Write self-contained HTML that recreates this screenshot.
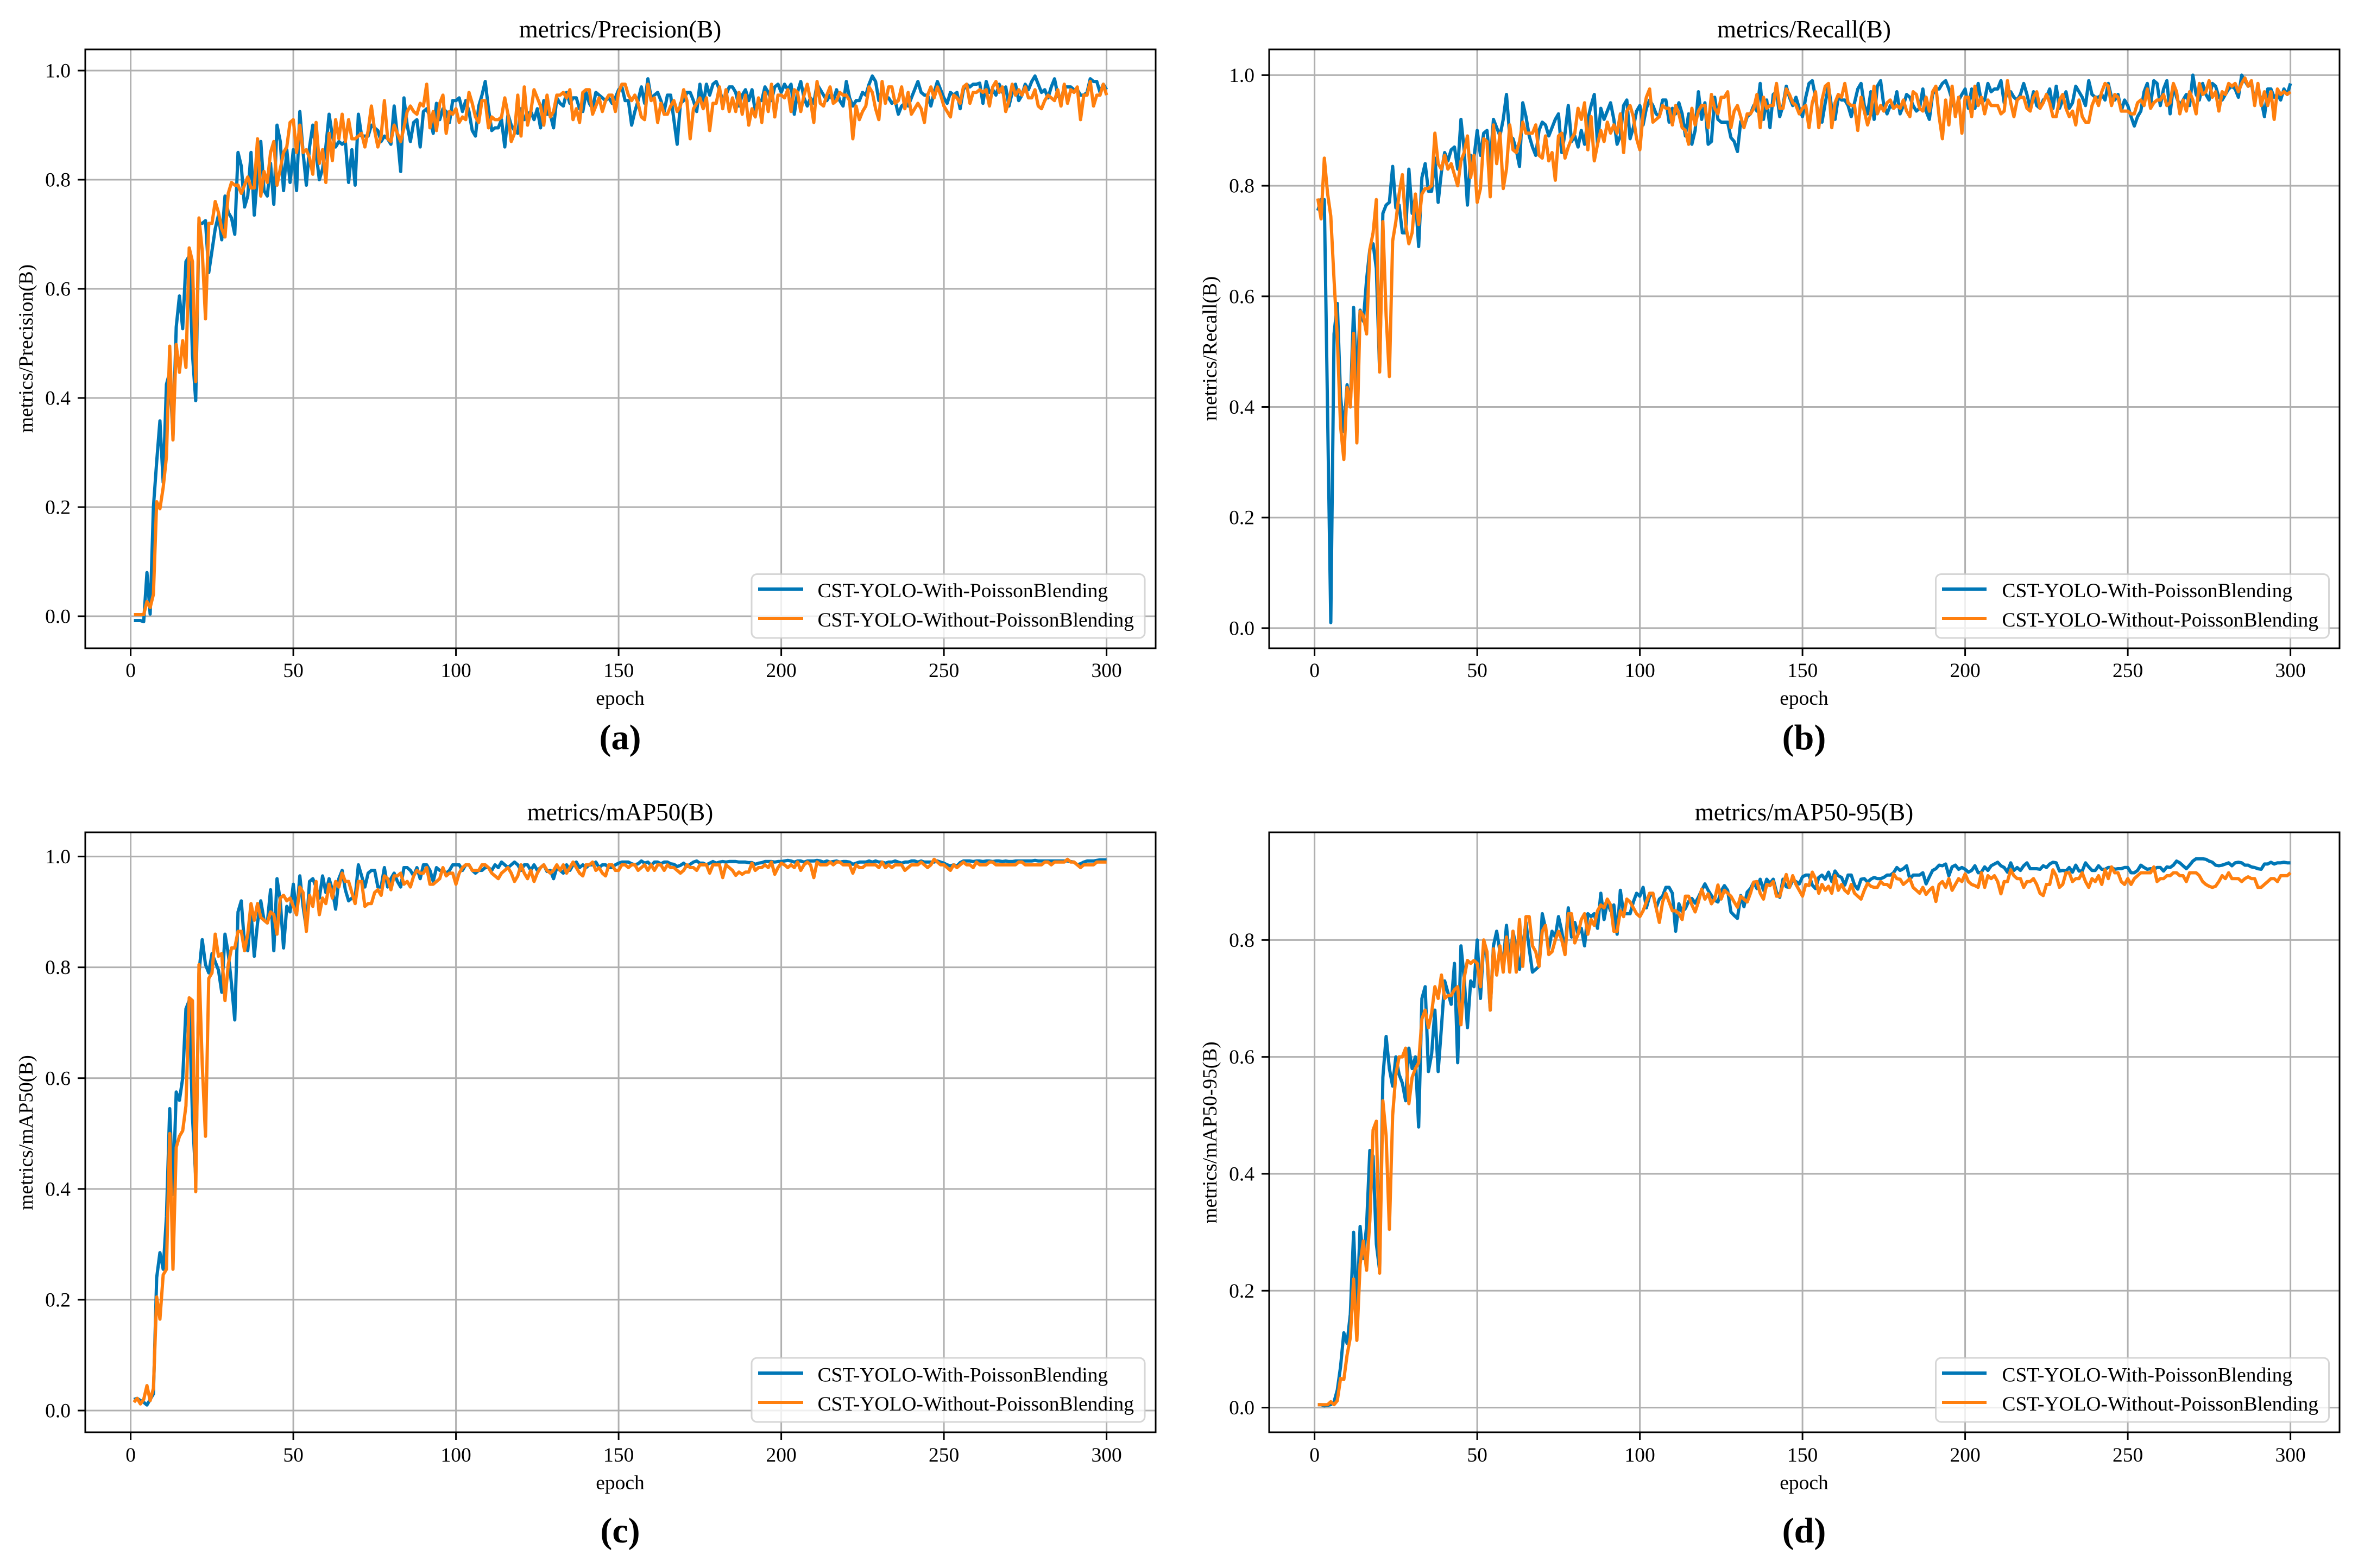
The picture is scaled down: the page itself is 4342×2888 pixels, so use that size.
<!DOCTYPE html>
<html lang="en">
<head>
<meta charset="utf-8">
<title>CST-YOLO training metrics</title>
<style>
html,body{margin:0;padding:0;background:#fff;}
svg{display:block;}
text{font-family:"Liberation Serif","Times New Roman",serif;fill:#000;}
.tick{font-size:37.5px;}
.axis{font-size:37.5px;}
.title{font-size:45px;text-anchor:middle;}
.leg{font-size:37.5px;}
.cap{font-size:66px;font-weight:bold;text-anchor:middle;}
</style>
</head>
<body>
<svg id="figure" xmlns="http://www.w3.org/2000/svg" width="4342" height="2888" viewBox="0 0 4342 2888">
<rect x="0" y="0" width="4342" height="2888" fill="#fff"/>

<g id="panel-a">
 <g class="grid"></g>
 <g class="series"></g>
 <rect x="157" y="91" width="1971" height="1103" fill="none" stroke="#000" stroke-width="3"/>
 <g class="ticks"></g>
 <text class="title" x="1142" y="69">metrics/Precision(B)</text>
 <text class="axis" x="1142" y="1298" text-anchor="middle">epoch</text>
 <text class="axis" transform="translate(60,642) rotate(-90)" text-anchor="middle">metrics/Precision(B)</text>
 <g>
  <rect x="1384" y="1057.5" width="724" height="117.5" rx="10" fill="#fff" fill-opacity=".8" stroke="#ccc" stroke-opacity=".8" stroke-width="3"/>
  <line x1="1396" x2="1479" y1="1085" y2="1085" stroke="#0077b6" stroke-width="6"/>
  <text class="leg" x="1505.5" y="1100">CST-YOLO-With-PoissonBlending</text>
  <line x1="1396" x2="1479" y1="1139" y2="1139" stroke="#ff7f0e" stroke-width="6"/>
  <text class="leg" x="1505.5" y="1154">CST-YOLO-Without-PoissonBlending</text>
 </g>
 <text class="cap" x="1142" y="1380">(a)</text>
</g>

<g id="panel-b">
 <g class="grid"></g>
 <g class="series"></g>
 <rect x="2337" y="91" width="1971" height="1103" fill="none" stroke="#000" stroke-width="3"/>
 <g class="ticks"></g>
 <text class="title" x="3322" y="69">metrics/Recall(B)</text>
 <text class="axis" x="3322" y="1298" text-anchor="middle">epoch</text>
 <text class="axis" transform="translate(2240,642) rotate(-90)" text-anchor="middle">metrics/Recall(B)</text>
 <g>
  <rect x="3564.5" y="1057.5" width="724" height="117.5" rx="10" fill="#fff" fill-opacity=".8" stroke="#ccc" stroke-opacity=".8" stroke-width="3"/>
  <line x1="3576" x2="3658" y1="1085" y2="1085" stroke="#0077b6" stroke-width="6"/>
  <text class="leg" x="3686.5" y="1100">CST-YOLO-With-PoissonBlending</text>
  <line x1="3576" x2="3658" y1="1139" y2="1139" stroke="#ff7f0e" stroke-width="6"/>
  <text class="leg" x="3686.5" y="1154">CST-YOLO-Without-PoissonBlending</text>
 </g>
 <text class="cap" x="3322" y="1380">(b)</text>
</g>

<g id="panel-c">
 <g class="grid"></g>
 <g class="series"></g>
 <rect x="157" y="1533" width="1971" height="1105" fill="none" stroke="#000" stroke-width="3"/>
 <g class="ticks"></g>
 <text class="title" x="1142" y="1511">metrics/mAP50(B)</text>
 <text class="axis" x="1142" y="2743" text-anchor="middle">epoch</text>
 <text class="axis" transform="translate(60,2086) rotate(-90)" text-anchor="middle">metrics/mAP50(B)</text>
 <g>
  <rect x="1384" y="2501" width="724" height="118" rx="10" fill="#fff" fill-opacity=".8" stroke="#ccc" stroke-opacity=".8" stroke-width="3"/>
  <line x1="1396" x2="1479" y1="2529" y2="2529" stroke="#0077b6" stroke-width="6"/>
  <text class="leg" x="1505.5" y="2544.5">CST-YOLO-With-PoissonBlending</text>
  <line x1="1396" x2="1479" y1="2583" y2="2583" stroke="#ff7f0e" stroke-width="6"/>
  <text class="leg" x="1505.5" y="2598">CST-YOLO-Without-PoissonBlending</text>
 </g>
 <text class="cap" x="1142" y="2841">(c)</text>
</g>

<g id="panel-d">
 <g class="grid"></g>
 <g class="series"></g>
 <rect x="2337" y="1533" width="1971" height="1105" fill="none" stroke="#000" stroke-width="3"/>
 <g class="ticks"></g>
 <text class="title" x="3322" y="1511">metrics/mAP50-95(B)</text>
 <text class="axis" x="3322" y="2743" text-anchor="middle">epoch</text>
 <text class="axis" transform="translate(2240,2086) rotate(-90)" text-anchor="middle">metrics/mAP50-95(B)</text>
 <g>
  <rect x="3564.5" y="2501" width="724" height="118" rx="10" fill="#fff" fill-opacity=".8" stroke="#ccc" stroke-opacity=".8" stroke-width="3"/>
  <line x1="3576" x2="3658" y1="2529" y2="2529" stroke="#0077b6" stroke-width="6"/>
  <text class="leg" x="3686.5" y="2544.5">CST-YOLO-With-PoissonBlending</text>
  <line x1="3576" x2="3658" y1="2583" y2="2583" stroke="#ff7f0e" stroke-width="6"/>
  <text class="leg" x="3686.5" y="2598">CST-YOLO-Without-PoissonBlending</text>
 </g>
 <text class="cap" x="3322" y="2841">(d)</text>
</g>
</svg>

<script>
const xTickLabels = ["0","50","100","150","200","250","300"];
const yTickLabelsFull = ["0.0","0.2","0.4","0.6","0.8","1.0"];
const yTickLabelsShort = ["0.0","0.2","0.4","0.6","0.8"];

const precisionWith = [
-.008,-.008,-.008,-.01,.08,.004,.2,.283,.358,.245,
.425,.447,.33,.53,.587,.527,.65,.66,.48,.395,
.72,.72,.725,.63,.67,.71,.735,.69,.77,.74,
.73,.70,.85,.825,.75,.77,.85,.735,.81,.87,
.78,.77,.83,.755,.9,.87,.78,.855,.795,.855,
.78,.925,.85,.79,.86,.9,.85,.8,.82,.86,
.92,.88,.86,.87,.865,.87,.795,.855,.79,.92,
.88,.88,.88,.9,.895,.89,.87,.88,.875,.865,
.935,.88,.815,.95,.9,.87,.905,.91,.86,.925,
.93,.915,.885,.94,.91,.93,.925,.905,.945,.945,
.95,.925,.945,.925,.89,.88,.935,.955,.98,.93,
.89,.895,.895,.91,.86,.92,.9,.89,.885,.93,
.91,.92,.925,.91,.93,.895,.945,.92,.92,.895,
.95,.94,.935,.96,.94,.95,.95,.93,.925,.96,
.94,.93,.96,.955,.95,.945,.95,.94,.95,.965,
.97,.945,.945,.90,.925,.945,.97,.94,.985,.95,
.955,.96,.945,.925,.955,.955,.91,.865,.94,.945,
.96,.96,.945,.925,.975,.935,.975,.955,.975,.98,
.965,.945,.955,.97,.97,.96,.935,.955,.965,.945,
.965,.925,.945,.945,.97,.96,.945,.97,.975,.96,
.975,.965,.975,.92,.96,.98,.95,.935,.95,.94,
.975,.965,.955,.945,.955,.945,.965,.945,.935,.98,
.95,.935,.945,.945,.96,.955,.975,.99,.98,.945,
.965,.95,.95,.94,.945,.92,.935,.94,.935,.95,
.965,.98,.96,.955,.955,.935,.96,.98,.965,.95,
.94,.96,.955,.96,.93,.965,.975,.97,.975,.975,
.977,.94,.98,.96,.965,.955,.975,.96,.97,.935,
.96,.975,.945,.955,.975,.965,.98,.99,.975,.96,
.965,.95,.97,.985,.955,.945,.97,.97,.97,.965,
.965,.955,.955,.96,.985,.98,.98,.96,.975,.965];

const precisionWithout = [
.003,.003,.003,.003,.027,.016,.04,.21,.197,.236,
.292,.495,.323,.498,.447,.505,.456,.675,.65,.43,
.73,.67,.545,.72,.72,.76,.74,.71,.695,.775,
.795,.79,.79,.775,.79,.805,.785,.785,.875,.77,
.815,.795,.85,.87,.79,.82,.85,.86,.905,.91,
.85,.9,.85,.855,.84,.81,.905,.83,.855,.795,
.885,.835,.91,.875,.92,.87,.91,.875,.875,.88,
.885,.86,.89,.935,.89,.86,.88,.945,.875,.87,
.9,.885,.87,.895,.925,.935,.925,.92,.94,.935,
.975,.895,.925,.89,.94,.955,.885,.925,.92,.93,
.905,.915,.91,.96,.94,.915,.905,.945,.945,.895,
.915,.91,.91,.915,.95,.92,.87,.885,.955,.88,
.97,.9,.925,.965,.95,.935,.9,.955,.915,.925,
.955,.955,.96,.95,.965,.91,.93,.905,.96,.965,
.965,.92,.935,.95,.925,.945,.955,.955,.925,.96,
.975,.975,.955,.945,.955,.94,.915,.91,.975,.945,
.95,.905,.94,.92,.92,.935,.945,.925,.935,.965,
.945,.875,.93,.94,.95,.93,.95,.89,.94,.94,
.97,.93,.965,.925,.95,.925,.96,.92,.955,.9,
.93,.915,.95,.905,.96,.925,.975,.915,.955,.955,
.95,.965,.925,.965,.96,.925,.955,.975,.945,.905,
.98,.94,.935,.955,.97,.94,.945,.96,.955,.955,
.945,.875,.935,.91,.925,.935,.97,.96,.93,.91,
.98,.94,.97,.97,.94,.945,.97,.93,.96,.92,
.93,.94,.93,.905,.955,.97,.95,.97,.955,.935,
.925,.915,.955,.95,.94,.97,.975,.94,.96,.96,
.965,.96,.965,.935,.97,.98,.96,.97,.925,.945,
.975,.955,.965,.955,.97,.95,.95,.965,.935,.93,
.945,.955,.95,.945,.965,.935,.975,.94,.965,.96,
.97,.91,.955,.955,.98,.935,.955,.955,.975,.955];

const recallWith = [
.755,.775,.775,.39,.01,.532,.587,.42,.355,.44,
.40,.58,.44,.575,.555,.63,.685,.695,.65,.465,
.75,.765,.77,.835,.76,.765,.715,.715,.83,.75,
.78,.69,.815,.84,.79,.79,.85,.77,.825,.86,
.845,.865,.87,.83,.92,.865,.765,.855,.85,.9,
.855,.895,.9,.84,.92,.905,.89,.92,.965,.89,
.885,.865,.835,.95,.925,.89,.87,.855,.9,.915,
.91,.89,.905,.92,.93,.86,.895,.945,.88,.89,
.87,.9,.875,.92,.945,.965,.875,.94,.92,.935,
.95,.92,.875,.89,.945,.955,.885,.905,.935,.945,
.91,.94,.955,.945,.93,.925,.955,.955,.915,.94,
.93,.95,.93,.89,.93,.875,.90,.97,.92,.95,
.875,.88,.96,.92,.915,.915,.915,.887,.88,.862,
.916,.906,.925,.93,.945,.935,.985,.92,.955,.905,
.965,.97,.925,.945,.98,.96,.945,.96,.94,.925,
.96,.985,.99,.96,.92,.915,.95,.98,.94,.92,
.96,.955,.955,.945,.925,.95,.975,.985,.945,.93,
.97,.92,.98,.99,.945,.93,.945,.94,.97,.93,
.945,.965,.96,.945,.935,.94,.975,.935,.92,.965,
.975,.975,.985,.99,.975,.955,.935,.955,.965,.975,
.94,.975,.94,.985,.95,.955,.985,.97,.975,.975,
.99,.95,.97,.97,.96,.955,.965,.985,.965,.94,
.97,.945,.94,.955,.96,.975,.94,.98,.94,.955,
.97,.94,.95,.98,.97,.96,.945,.99,.965,.96,
.96,.965,.955,.985,.96,.955,.965,.935,.955,.945,
.925,.908,.925,.935,.97,.985,.945,.99,.985,.945,
.975,.99,.93,.98,.96,.945,.955,.965,.945,1.0,
.965,.955,.985,.965,.955,.985,.98,.96,.955,.965,
.975,.98,.975,.96,1.0,.99,.98,.985,.955,.975,
.955,.925,.975,.975,.96,.965,.955,.975,.965,.985];

const recallWithout = [
.777,.74,.85,.786,.745,.63,.525,.365,.305,.435,
.4,.533,.335,.573,.565,.532,.685,.715,.775,.463,
.735,.565,.455,.70,.735,.785,.82,.73,.695,.715,
.785,.73,.785,.795,.795,.8,.895,.84,.83,.855,
.83,.84,.82,.80,.845,.86,.89,.815,.855,.77,
.795,.885,.88,.78,.91,.84,.895,.795,.83,.91,
.865,.86,.88,.915,.895,.895,.895,.91,.855,.85,
.89,.845,.86,.81,.89,.895,.85,.87,.885,.895,
.94,.92,.95,.865,.925,.845,.875,.9,.88,.915,
.895,.91,.895,.93,.86,.935,.945,.925,.885,.865,
.93,.96,.975,.915,.92,.925,.945,.94,.94,.91,
.945,.93,.905,.9,.875,.94,.91,.935,.945,.945,
.905,.965,.94,.93,.96,.96,.97,.905,.935,.945,
.925,.905,.93,.93,.94,.965,.905,.96,.94,.945,
.945,.985,.94,.94,.975,.965,.95,.945,.93,.94,
.945,.905,.95,.97,.905,.955,.98,.985,.905,.95,
.965,.96,.985,.95,.945,.945,.9,.96,.935,.91,
.93,.98,.93,.945,.935,.95,.955,.94,.945,.94,
.955,.935,.925,.97,.965,.94,.935,.96,.935,.97,
.98,.925,.885,.955,.91,.98,.925,.96,.895,.96,
.96,.925,.98,.945,.96,.93,.955,.945,.945,.945,
.93,.935,.99,.95,.925,.955,.96,.96,.94,.935,
.96,.97,.94,.95,.965,.95,.925,.925,.955,.965,
.94,.925,.935,.91,.955,.925,.915,.915,.945,.96,
.945,.97,.985,.98,.945,.965,.96,.935,.935,.935,
.93,.93,.95,.955,.945,.975,.94,.95,.955,.955,
.965,.945,.95,.985,.97,.93,.955,.935,.97,.955,
.93,.985,.965,.97,.99,.96,.97,.935,.97,.965,
.985,.98,.985,.97,.985,.995,.98,.99,.945,.985,
.945,.97,.945,.97,.92,.975,.965,.97,.965,.97];

const map50With = [
.02,.022,.018,.015,.01,.02,.03,.24,.285,.255,
.35,.545,.39,.575,.56,.6,.725,.74,.53,.42,
.79,.85,.805,.79,.825,.81,.795,.755,.86,.825,
.77,.705,.9,.92,.84,.83,.9,.82,.88,.92,
.885,.88,.94,.83,.96,.92,.835,.91,.9,.95,
.895,.965,.91,.87,.955,.96,.945,.925,.965,.935,
.96,.94,.905,.96,.975,.94,.92,.925,.925,.985,
.965,.945,.97,.975,.975,.945,.945,.98,.945,.96,
.97,.955,.945,.98,.98,.975,.965,.98,.96,.985,
.985,.975,.955,.98,.975,.975,.97,.975,.985,.985,
.985,.975,.985,.985,.975,.97,.975,.975,.98,.98,
.975,.985,.98,.99,.985,.98,.985,.99,.985,.975,
.985,.985,.975,.985,.975,.98,.985,.973,.975,.96,
.98,.975,.97,.985,.975,.985,.99,.98,.985,.98,
.985,.985,.99,.98,.985,.985,.98,.98,.985,.988,
.99,.99,.99,.987,.985,.987,.992,.988,.99,.984,
.99,.99,.987,.99,.99,.987,.986,.982,.984,.988,
.982,.986,.99,.992,.988,.988,.985,.988,.991,.988,
.99,.991,.99,.991,.991,.991,.99,.99,.99,.989,
.989,.986,.988,.989,.991,.991,.991,.99,.991,.991,
.992,.993,.992,.99,.992,.992,.99,.992,.992,.992,
.993,.992,.99,.992,.99,.991,.992,.99,.991,.991,
.99,.986,.988,.99,.99,.99,.992,.99,.992,.99,
.99,.988,.99,.99,.992,.99,.988,.99,.99,.992,
.992,.99,.992,.99,.99,.99,.99,.992,.99,.988,
.985,.983,.985,.983,.989,.992,.992,.992,.991,.992,
.992,.991,.992,.992,.991,.992,.992,.991,.992,.991,
.991,.992,.992,.992,.992,.992,.992,.993,.992,.992,
.992,.992,.992,.992,.992,.992,.992,.992,.991,.99,
.985,.987,.99,.992,.992,.992,.993,.994,.994,.994];

const map50Without = [
.015,.022,.012,.02,.045,.018,.04,.205,.165,.245,
.255,.5,.255,.475,.495,.505,.55,.745,.74,.395,
.805,.625,.495,.78,.79,.86,.82,.825,.74,.805,
.835,.835,.865,.865,.83,.86,.915,.885,.915,.89,
.885,.88,.9,.895,.86,.925,.93,.92,.925,.91,
.895,.945,.935,.865,.93,.91,.955,.895,.925,.915,
.95,.925,.955,.945,.97,.955,.955,.935,.915,.955,
.955,.91,.915,.915,.935,.94,.93,.965,.96,.94,
.965,.965,.97,.95,.955,.945,.965,.975,.97,.97,
.98,.95,.95,.955,.96,.98,.965,.97,.97,.95,
.97,.98,.985,.985,.975,.975,.975,.985,.985,.98,
.97,.965,.96,.97,.975,.98,.97,.955,.965,.985,
.97,.96,.975,.955,.97,.98,.985,.975,.97,.975,
.985,.975,.985,.97,.98,.99,.98,.97,.965,.985,
.985,.99,.975,.98,.97,.965,.985,.985,.975,.975,
.985,.985,.98,.985,.985,.975,.98,.985,.975,.985,
.975,.985,.985,.975,.985,.98,.98,.975,.97,.975,
.985,.98,.98,.975,.985,.985,.985,.97,.985,.985,
.985,.962,.985,.98,.975,.966,.972,.968,.972,.972,
.988,.975,.98,.98,.985,.98,.99,.968,.98,.988,
.985,.98,.985,.98,.99,.975,.985,.99,.985,.962,
.99,.985,.985,.985,.99,.985,.99,.99,.985,.985,
.985,.97,.985,.98,.98,.985,.985,.985,.985,.98,
.99,.98,.985,.98,.985,.985,.985,.975,.98,.985,
.985,.985,.99,.985,.98,.985,.995,.99,.985,.985,
.98,.975,.985,.98,.985,.99,.985,.985,.98,.99,
.985,.985,.985,.99,.99,.985,.985,.985,.985,.985,
.985,.985,.99,.99,.985,.985,.985,.985,.985,.985,
.99,.99,.985,.99,.99,.99,.99,.995,.99,.99,
.985,.98,.985,.985,.985,.985,.99,.99,.99,.99];

const map5095With = [
.005,.005,.003,.004,.005,.01,.03,.07,.128,.11,
.16,.30,.16,.31,.255,.31,.44,.43,.28,.235,
.565,.635,.58,.55,.6,.57,.555,.525,.615,.58,
.60,.48,.70,.72,.575,.605,.68,.575,.65,.73,
.71,.69,.76,.59,.79,.735,.65,.73,.72,.80,
.70,.795,.77,.68,.79,.815,.78,.76,.825,.76,
.815,.785,.75,.79,.83,.785,.745,.75,.755,.845,
.82,.785,.815,.805,.84,.815,.78,.855,.805,.83,
.81,.82,.79,.845,.84,.845,.82,.88,.835,.865,
.85,.86,.81,.885,.845,.845,.845,.865,.88,.875,
.89,.855,.875,.88,.855,.87,.875,.89,.89,.88,
.815,.862,.848,.854,.866,.871,.863,.873,.885,.896,
.885,.876,.868,.865,.884,.893,.885,.848,.842,.837,
.876,.857,.882,.888,.899,.888,.904,.885,.904,.897,
.904,.882,.873,.904,.891,.89,.902,.90,.896,.908,
.911,.911,.894,.888,.907,.911,.904,.916,.90,.918,
.91,.907,.894,.911,.911,.894,.887,.904,.905,.899,
.904,.907,.905,.905,.907,.911,.911,.915,.924,.919,
.922,.927,.904,.911,.911,.911,.915,.896,.908,.919,
.922,.928,.927,.93,.91,.925,.928,.921,.924,.921,
.916,.919,.927,.915,.916,.925,.919,.927,.93,.933,
.927,.924,.916,.932,.919,.924,.919,.927,.932,.922,
.922,.922,.921,.927,.924,.93,.933,.932,.918,.919,
.918,.924,.916,.928,.918,.918,.932,.925,.919,.919,
.927,.921,.921,.924,.924,.921,.922,.922,.924,.924,
.915,.915,.919,.928,.924,.921,.922,.921,.924,.924,
.918,.925,.924,.928,.935,.932,.927,.922,.928,.935,
.939,.939,.939,.938,.935,.933,.928,.927,.928,.93,
.932,.927,.932,.933,.932,.928,.928,.925,.924,.922,
.921,.93,.93,.933,.93,.932,.932,.933,.932,.932];

const map5095Without = [
.005,.005,.005,.005,.01,.005,.012,.05,.048,.09,
.12,.22,.115,.245,.285,.235,.32,.475,.49,.23,
.525,.465,.305,.5,.57,.6,.6,.615,.52,.565,
.58,.59,.665,.68,.65,.675,.72,.70,.74,.70,
.705,.705,.715,.72,.655,.735,.765,.76,.765,.76,
.72,.80,.78,.68,.785,.74,.79,.745,.805,.745,
.815,.745,.835,.755,.84,.84,.79,.78,.755,.815,
.825,.775,.78,.80,.815,.80,.775,.845,.845,.795,
.81,.835,.845,.81,.835,.825,.85,.86,.855,.87,
.86,.815,.815,.85,.84,.87,.865,.855,.845,.84,
.85,.865,.88,.88,.855,.83,.865,.88,.865,.85,
.85,.845,.835,.875,.875,.86,.848,.865,.887,.87,
.879,.862,.87,.894,.87,.885,.88,.875,.865,.856,
.875,.87,.865,.88,.899,.90,.88,.87,.895,.893,
.90,.875,.875,.895,.912,.89,.91,.895,.885,.875,
.895,.893,.916,.905,.88,.895,.885,.892,.88,.91,
.885,.895,.885,.88,.895,.88,.875,.87,.885,.897,
.892,.89,.89,.90,.895,.895,.89,.913,.905,.904,
.895,.90,.905,.89,.885,.88,.89,.878,.885,.89,
.866,.895,.90,.89,.905,.885,.895,.905,.90,.913,
.90,.895,.893,.89,.915,.89,.91,.905,.91,.90,
.879,.90,.90,.92,.91,.905,.905,.89,.90,.90,
.905,.895,.88,.876,.895,.895,.92,.91,.89,.895,
.915,.915,.90,.905,.905,.915,.90,.89,.905,.90,
.91,.895,.92,.905,.925,.915,.915,.90,.895,.905,
.895,.905,.91,.915,.915,.915,.915,.925,.90,.905,
.905,.91,.91,.915,.915,.91,.91,.90,.915,.915,
.915,.91,.90,.895,.892,.89,.892,.90,.91,.905,
.915,.905,.905,.905,.90,.905,.908,.905,.905,.89,
.89,.895,.90,.905,.905,.90,.91,.91,.91,.915];

const panelSetups = [
  {id:'panel-a', left:157, right:2128, bottom:1194, top:91, x0:240.6, y0:1135, yUnit:1005, tickBase:1247, yLabels:yTickLabelsFull, a:precisionWith, b:precisionWithout},
  {id:'panel-b', left:2337, right:4308, bottom:1194, top:91, x0:2420.6, y0:1156.9, yUnit:1018.5, tickBase:1247, yLabels:yTickLabelsFull, a:recallWith, b:recallWithout},
  {id:'panel-c', left:157, right:2128, bottom:2638, top:1533, x0:240.6, y0:2598, yUnit:1020.4, tickBase:2692, yLabels:yTickLabelsFull, a:map50With, b:map50Without},
  {id:'panel-d', left:2337, right:4308, bottom:2638, top:1533, x0:2420.6, y0:2592.6, yUnit:1076.6, tickBase:2692, yLabels:yTickLabelsShort, a:map5095With, b:map5095Without}
];

const NS = 'http://www.w3.org/2000/svg';
const PX_PER_EPOCH = 5.99;
function make(tag, attrs){
  const el = document.createElementNS(NS, tag);
  for (const k in attrs) el.setAttribute(k, attrs[k]);
  return el;
}
function xScale(p, epoch){ return p.x0 + epoch * PX_PER_EPOCH; }
function yScale(p, value){ return p.y0 - value * p.yUnit; }
function linePath(p, values){
  return values.map((v, i) => (i ? 'L' : 'M') + xScale(p, i + 1).toFixed(1) + ' ' + yScale(p, v).toFixed(1)).join('');
}

panelSetups.forEach(p => {
  const root = document.getElementById(p.id);
  const grid = root.querySelector('.grid');
  const series = root.querySelector('.series');
  const ticks = root.querySelector('.ticks');

  xTickLabels.forEach(lbl => {
    const x = xScale(p, Number(lbl));
    const g = make('line', {x1:x, x2:x, y1:p.top, y2:p.bottom, stroke:'#b0b0b0', 'stroke-width':3});
    
    
    grid.appendChild(g);
    const t = make('line', {x1:x, x2:x, y1:p.bottom, y2:p.bottom + 14, stroke:'#000', 'stroke-width':3});
    
    
    ticks.appendChild(t);
    const tx = make('text', {x:x, y:p.tickBase, 'text-anchor':'middle', class:'tick'});
    tx.textContent = lbl;
    
    
    ticks.appendChild(tx);
  });

  p.yLabels.forEach(lbl => {
    const y = yScale(p, Number(lbl));
    const g = make('line', {x1:p.left, x2:p.right, y1:y, y2:y, stroke:'#b0b0b0', 'stroke-width':3});
    
    
    grid.appendChild(g);
    const t = make('line', {x1:p.left - 14, x2:p.left, y1:y, y2:y, stroke:'#000', 'stroke-width':3});
    
    
    ticks.appendChild(t);
    const tx = make('text', {x:p.left - 27, y:y + 12.5, 'text-anchor':'end', class:'tick'});
    tx.textContent = lbl;
    
    
    ticks.appendChild(tx);
  });

  const lineA = make('path', {d:linePath(p, p.a), fill:'none', stroke:'#0077b6', 'stroke-width':6, 'stroke-linejoin':'round'});
  
  
  series.appendChild(lineA);

  const lineB = make('path', {d:linePath(p, p.b), fill:'none', stroke:'#ff7f0e', 'stroke-width':6, 'stroke-linejoin':'round'});
  
  
  series.appendChild(lineB);
});
</script>
</body>
</html>
